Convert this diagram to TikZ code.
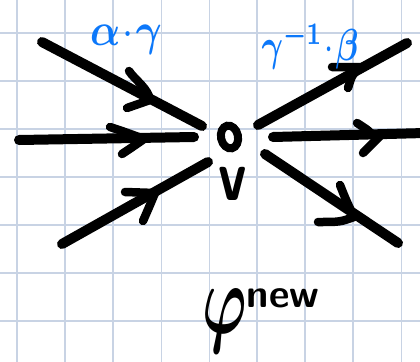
\documentclass[tikz,border=0pt]{standalone}
\usepackage{amsmath,bm,graphicx}
\usetikzlibrary{shapes.geometric}
\definecolor{gridc}{RGB}{200,211,228}
\definecolor{penblue}{RGB}{12,120,250}
\begin{document}
\begin{tikzpicture}[x=1bp,y=-1bp,
  pen/.style={line width=10bp, line cap=round, line join=round},
  arm/.style={line width=8.5bp, line cap=round},
  gridline/.style={gridc, line width=1.6bp},
  bluelabel/.style={text=penblue, inner sep=0pt},
  blacklabel/.style={text=black, inner sep=0pt}]
\useasboundingbox (0,0) rectangle (420,362);
\fill[white] (0,0) rectangle (420,362);
\foreach \x in {17,65,113,161.5,209.5,257,305,353,401.5} \draw[gridline] (\x,0) -- (\x,362);
\foreach \y in {33,81,129,177,225,273,321} \draw[gridline] (0,\y) -- (420,\y);

% vertex
\node[draw, ellipse, line width=8bp, minimum width=17bp, minimum height=23bp, inner sep=0pt, rotate=12] (v) at (229.5,137) {};
\node[blacklabel, font=\fontsize{52}{52}\selectfont\sffamily\bfseries, xscale=1.1, yscale=1.4] (vl) at (233,184) {v};

% free ends
\coordinate (a1) at (42,42);   \coordinate (a2) at (202,126);
\coordinate (b1) at (19,140);  \coordinate (b2) at (194,137);
\coordinate (c1) at (62,244);  \coordinate (c2) at (208,162);
\coordinate (d1) at (258,125); \coordinate (d2) at (407,43);
\coordinate (e1) at (273,137); \coordinate (e2) at (425,133);
\coordinate (f1) at (265,154); \coordinate (f2) at (398,243);

% arrow tips
\coordinate (at) at (150,100); \coordinate (aa) at (129,71);  \coordinate (ab) at (127,108);
\coordinate (bt) at (144,139); \coordinate (ba) at (110,127); \coordinate (bb) at (122,154);
\coordinate (ct) at (155,193); \coordinate (ca) at (125,192); \coordinate (cb) at (143,221);
\coordinate (dt) at (360,67);  \coordinate (da) at (332,67);  \coordinate (db) at (348,88);
\coordinate (et) at (377,139); \coordinate (ea) at (357,123); \coordinate (eb) at (363,153);
\coordinate (ft) at (354,217); \coordinate (fa) at (340,185); \coordinate (fb) at (318,222);

\draw[pen] (a1) -- (a2);
\draw[pen] (b1) -- (b2);
\draw[pen] (c1) -- (c2);
\draw[pen] (d1) -- (d2);
\draw[pen] (e1) -- (e2);
\draw[pen] (f1) -- (f2);

\draw[arm] (aa) .. controls (135,80) and (148,88) .. (at) -- (ab);
\draw[arm] (ba) .. controls (125,132) .. (bt) .. controls (134,146) .. (bb);
\draw[arm] (ca) -- (ct) .. controls (150,205) .. (cb);
\draw[arm] (da) -- (dt) .. controls (352,75) .. (db);
\draw[arm] (ea) .. controls (368,130) .. (et) .. controls (370,146) .. (eb);
\draw[arm] (fa) .. controls (346,200) .. (ft) .. controls (340,222) .. (fb);

% labels
\node[bluelabel, xscale=4.0, yscale=4.6] (lab1) at (126,40) {$\boldsymbol{\alpha}\mkern1mu{\cdot}\mkern1mu\boldsymbol{\gamma}$};
\node[bluelabel, xscale=3.3, yscale=4.5] (lab2) at (310,46) {$\boldsymbol{\gamma}^{\boldsymbol{-1}}\mkern1mu{\cdot}\mkern1mu\boldsymbol{\beta}$};
\node[blacklabel, anchor=west] (phi) at (202,321) {\scalebox{6}[10]{$\boldsymbol{\varphi}$}\raisebox{26bp}{\fontsize{40}{40}\selectfont\sffamily\bfseries new}};
\end{tikzpicture}
\end{document}
